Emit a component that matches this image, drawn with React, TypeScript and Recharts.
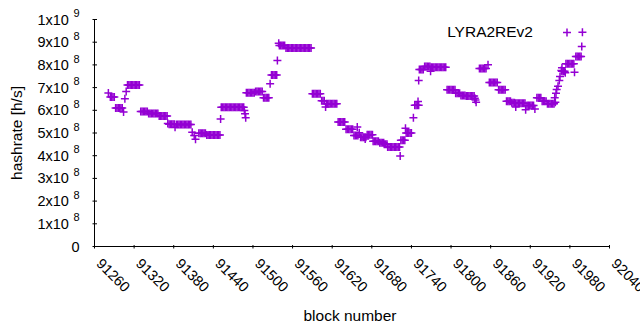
import React from 'react';
import { ScatterChart, Scatter, XAxis, YAxis, Legend, Label } from 'recharts';

// ---- data (block number, estimated hashrate in h/s) ----
const blocks = [
  91281,
  91284, 91286, 91288, 91290,
  91292, 91294, 91296, 91298, 91300, 91302,
  91304, 91306, 91308,
  91310, 91312, 91314, 91316, 91318, 91320, 91322, 91324, 91326, 91328,
  91330, 91332, 91334, 91336, 91338, 91340,
  91342, 91344, 91346, 91348, 91350, 91352, 91354, 91356,
  91358, 91360, 91362, 91364, 91366, 91368, 91370,
  91371,
  91373, 91375, 91377, 91379, 91381,
  91382,
  91384, 91386, 91388, 91390, 91392, 91394, 91396, 91398, 91400, 91402, 91404, 91406,
  91408, 91411, 91413,
  91418, 91420, 91422, 91424, 91426, 91428,
  91430, 91432, 91434, 91436, 91438, 91440, 91442, 91444, 91446, 91448, 91450,
  91451,
  91452, 91454, 91456, 91458, 91460, 91462, 91464, 91466, 91468, 91470, 91472, 91474, 91476, 91478, 91480, 91482, 91484, 91486,
  91487, 91488, 91489,
  91490, 91492, 91494, 91496, 91498, 91500, 91502,
  91504, 91506, 91508, 91510, 91512, 91514,
  91516, 91518, 91520, 91522, 91524,
  91526,
  91528, 91530, 91532, 91534, 91536,
  91537, 91539,
  91540, 91542, 91544, 91546, 91548,
  91550, 91552, 91554, 91556, 91558, 91560, 91562, 91564, 91566, 91568, 91570, 91572, 91574, 91576, 91578, 91580, 91582, 91584, 91586, 91588,
  91590, 91592, 91594, 91596, 91598, 91600, 91602,
  91604, 91606, 91608,
  91610,
  91611, 91613, 91615, 91617, 91619, 91621, 91623, 91625, 91627,
  91629, 91631, 91633, 91635, 91637, 91639,
  91641, 91643, 91645, 91647, 91649, 91651,
  91653, 91655, 91657, 91659,
  91658, 91661,
  91663, 91665, 91667, 91669, 91671, 91670,
  91673, 91675, 91677, 91679, 91681,
  91682, 91684, 91686, 91688, 91690,
  91692, 91694, 91696, 91698,
  91699, 91701, 91703,
  91704, 91706, 91708, 91710, 91712, 91714, 91716, 91718, 91720, 91722,
  91723,
  91724, 91726, 91728, 91730,
  91731,
  91732, 91734, 91736, 91738, 91740,
  91743,
  91745, 91747, 91749, 91751, 91750,
  91751,
  91752, 91754, 91756, 91758,
  91760, 91762, 91764, 91766, 91768,
  91769,
  91770, 91772, 91774, 91776, 91778, 91780, 91782, 91784, 91786, 91788, 91790, 91792,
  91794, 91796, 91798, 91800, 91802, 91804, 91806,
  91807, 91809, 91811, 91813,
  91815, 91817, 91819, 91821,
  91823, 91825, 91827, 91829, 91831, 91833, 91835,
  91836, 91837, 91838,
  91843, 91845, 91847, 91849, 91851, 91853,
  91856,
  91858, 91860, 91862, 91864, 91866, 91868, 91870,
  91872, 91874, 91876, 91878, 91880, 91882,
  91884, 91886, 91888, 91890,
  91892, 91894, 91896,
  91898,
  91898, 91900, 91902, 91904, 91906, 91908, 91910, 91912,
  91913,
  91915, 91917, 91919, 91921, 91923, 91925,
  91927,
  91930, 91932, 91934, 91936,
  91938, 91940, 91942, 91944,
  91946, 91948, 91950, 91952, 91954, 91956,
  91957, 91958, 91959, 91960, 91962, 91964, 91965, 91967, 91968,
  91968, 91970, 91972,
  91973,
  91974, 91976, 91978, 91980, 91982, 91984, 91986,
  91987,
  91989, 91991, 91993, 91995, 91997,
  91998, 91999,
];

const hashrate = [
  6.76e8,
  6.59e8, 6.59e8, 6.59e8, 6.59e8,
  6.10e8, 6.10e8, 6.10e8, 6.10e8, 6.10e8, 6.10e8,
  5.93e8, 6.51e8, 6.83e8,
  7.12e8, 7.12e8, 7.12e8, 7.12e8, 7.12e8, 7.12e8, 7.12e8, 7.12e8, 7.12e8, 7.12e8,
  5.95e8, 5.95e8, 5.95e8, 5.95e8, 5.95e8, 5.95e8,
  5.86e8, 5.86e8, 5.86e8, 5.86e8, 5.86e8, 5.86e8, 5.86e8, 5.86e8,
  5.75e8, 5.75e8, 5.75e8, 5.75e8, 5.75e8, 5.75e8, 5.75e8,
  5.42e8,
  5.39e8, 5.39e8, 5.39e8, 5.39e8, 5.39e8,
  5.25e8,
  5.37e8, 5.37e8, 5.37e8, 5.37e8, 5.37e8, 5.37e8, 5.37e8, 5.37e8, 5.37e8, 5.37e8, 5.37e8, 5.37e8,
  5.03e8, 4.89e8, 4.73e8,
  4.99e8, 4.99e8, 4.99e8, 4.99e8, 4.99e8, 4.99e8,
  4.91e8, 4.91e8, 4.91e8, 4.91e8, 4.91e8, 4.91e8, 4.91e8, 4.91e8, 4.91e8, 4.91e8, 4.91e8,
  5.62e8,
  6.13e8, 6.13e8, 6.13e8, 6.13e8, 6.13e8, 6.13e8, 6.13e8, 6.13e8, 6.13e8, 6.13e8, 6.13e8, 6.13e8, 6.13e8, 6.13e8, 6.13e8, 6.13e8, 6.13e8, 6.13e8,
  5.99e8, 5.85e8, 5.67e8,
  6.77e8, 6.77e8, 6.77e8, 6.77e8, 6.77e8, 6.77e8, 6.77e8,
  6.83e8, 6.83e8, 6.83e8, 6.83e8, 6.83e8, 6.83e8,
  6.55e8, 6.55e8, 6.55e8, 6.55e8, 6.55e8,
  7.17e8,
  7.56e8, 7.56e8, 7.56e8, 7.56e8, 7.56e8,
  8.19e8, 8.95e8,
  8.85e8, 8.85e8, 8.85e8, 8.85e8, 8.85e8,
  8.75e8, 8.75e8, 8.75e8, 8.75e8, 8.75e8, 8.75e8, 8.75e8, 8.75e8, 8.75e8, 8.75e8, 8.75e8, 8.75e8, 8.75e8, 8.75e8, 8.75e8, 8.75e8, 8.75e8, 8.75e8, 8.75e8, 8.75e8,
  6.73e8, 6.73e8, 6.73e8, 6.73e8, 6.73e8, 6.73e8, 6.73e8,
  6.42e8, 6.42e8, 6.42e8,
  6.14e8,
  6.29e8, 6.29e8, 6.29e8, 6.29e8, 6.29e8, 6.29e8, 6.29e8, 6.29e8, 6.29e8,
  5.48e8, 5.48e8, 5.48e8, 5.48e8, 5.48e8, 5.48e8,
  5.17e8, 5.17e8, 5.17e8, 5.17e8, 5.17e8, 5.17e8,
  4.89e8, 4.89e8, 4.89e8, 4.89e8,
  5.26e8, 5.01e8,
  4.81e8, 4.81e8, 4.81e8, 4.81e8, 4.81e8, 4.74e8,
  4.92e8, 4.92e8, 4.92e8, 4.92e8, 4.92e8,
  4.64e8, 4.64e8, 4.64e8, 4.64e8, 4.64e8,
  4.57e8, 4.57e8, 4.57e8, 4.57e8,
  4.50e8, 4.50e8, 4.50e8,
  4.38e8, 4.38e8, 4.38e8, 4.38e8, 4.38e8, 4.38e8, 4.38e8, 4.38e8, 4.38e8, 4.38e8,
  3.99e8,
  4.68e8, 4.68e8, 4.68e8, 4.68e8,
  5.21e8,
  5.00e8, 5.00e8, 5.00e8, 5.00e8, 5.00e8,
  5.67e8,
  6.22e8, 6.22e8, 6.22e8, 6.22e8, 6.39e8,
  7.31e8,
  7.80e8, 7.80e8, 7.80e8, 7.80e8,
  7.93e8, 7.93e8, 7.93e8, 7.93e8, 7.93e8,
  7.72e8,
  7.90e8, 7.90e8, 7.90e8, 7.90e8, 7.90e8, 7.90e8, 7.90e8, 7.90e8, 7.90e8, 7.90e8, 7.90e8, 7.90e8,
  6.90e8, 6.90e8, 6.90e8, 6.90e8, 6.90e8, 6.90e8, 6.90e8,
  6.75e8, 6.75e8, 6.75e8, 6.75e8,
  6.65e8, 6.65e8, 6.65e8, 6.65e8,
  6.63e8, 6.63e8, 6.63e8, 6.63e8, 6.63e8, 6.63e8, 6.63e8,
  6.53e8, 6.45e8, 6.36e8,
  7.84e8, 7.84e8, 7.84e8, 7.84e8, 7.84e8, 7.84e8,
  8.01e8,
  7.22e8, 7.22e8, 7.22e8, 7.22e8, 7.22e8, 7.22e8, 7.22e8,
  6.90e8, 6.90e8, 6.90e8, 6.90e8, 6.90e8, 6.90e8,
  6.40e8, 6.40e8, 6.40e8, 6.40e8,
  6.33e8, 6.33e8, 6.33e8,
  6.14e8,
  6.31e8, 6.31e8, 6.31e8, 6.31e8, 6.31e8, 6.31e8, 6.31e8, 6.31e8,
  6.02e8,
  6.21e8, 6.21e8, 6.21e8, 6.21e8, 6.21e8, 6.21e8,
  6.06e8,
  6.55e8, 6.55e8, 6.55e8, 6.55e8,
  6.40e8, 6.40e8, 6.40e8, 6.40e8,
  6.29e8, 6.29e8, 6.29e8, 6.29e8, 6.29e8, 6.29e8,
  6.55e8, 6.36e8, 6.75e8, 6.92e8, 7.06e8, 7.31e8, 7.49e8, 7.75e8, 7.87e8,
  7.72e8, 7.72e8, 7.72e8,
  7.65e8,
  8.05e8, 8.05e8, 8.05e8, 8.05e8, 8.05e8, 8.05e8, 8.05e8,
  7.68e8,
  8.37e8, 8.37e8, 8.37e8, 8.37e8, 8.37e8,
  8.81e8, 9.44e8,
];

const seriesName = 'LYRA2REv2';
const xTicks = [91260, 91320, 91380, 91440, 91500, 91560, 91620, 91680, 91740, 91800, 91860, 91920, 91980, 92040];
const yTicks = [0, 1e8, 2e8, 3e8, 4e8, 5e8, 6e8, 7e8, 8e8, 9e8, 1e9];
const yTickMantissa = ['0', '1x10', '2x10', '3x10', '4x10', '5x10', '6x10', '7x10', '8x10', '9x10', '1x10'];
const yTickExponent = ['', '8', '8', '8', '8', '8', '8', '8', '8', '8', '9'];

const data = blocks.map((b, i) => ({ block: b, hashrate: hashrate[i] }));

const COLOR = '#9400D3';
const FONT = '"Liberation Sans", Arial, sans-serif';
const TICK_FS = 14.5;

const PlusShape = (props: any) => {
  const { cx, cy } = props;
  if (cx == null || cy == null) return null;
  return (
    <path
      d={`M${cx - 4},${cy}H${cx + 4}M${cx},${cy - 4}V${cy + 4}`}
      stroke={COLOR}
      strokeWidth={1.5}
      fill="none"
    />
  );
};

const BottomTick = (props: any) => {
  const { x, y, payload } = props;
  const tx = x + 1;
  const ty = y + 16;
  return (
    <g>
      <line x1={x} y1={y} x2={x} y2={y - 3.5} stroke="#000" strokeWidth={1} />
      <text
        x={tx}
        y={ty}
        transform={`rotate(45, ${tx}, ${ty})`}
        fontSize={TICK_FS}
        fontFamily={FONT}
        fill="#000"
        textAnchor="start"
      >
        {payload.value}
      </text>
    </g>
  );
};

const TopTick = (props: any) => {
  const { x, y } = props;
  return <line x1={x} y1={y} x2={x} y2={y + 3.5} stroke="#000" strokeWidth={1} />;
};

const LeftTick = (props: any) => {
  const { x, y, payload } = props;
  const idx = yTicks.indexOf(payload.value);
  const mant = yTickMantissa[idx] ?? String(payload.value);
  const exp = yTickExponent[idx] ?? '';
  return (
    <g>
      <line x1={x} y1={y} x2={x + 4.5} y2={y} stroke="#000" strokeWidth={1} />
      <text x={x - 13} y={y + 5} textAnchor="end" fontSize={TICK_FS} fontFamily={FONT} fill="#000">
        {mant}
        {exp ? (
          <tspan dx={4.5} dy={-7.4} fontSize={11}>
            {exp}
          </tspan>
        ) : null}
      </text>
    </g>
  );
};

const RightTick = (props: any) => {
  const { x, y } = props;
  return <line x1={x} y1={y} x2={x - 4.5} y2={y} stroke="#000" strokeWidth={1} />;
};

const YTitle = (props: any) => {
  const vb = props.viewBox || { x: 0, y: 19.5, width: 94, height: 227 };
  const cx = 21.7;
  const cy = vb.y + vb.height / 2;
  return (
    <text
      x={cx}
      y={cy}
      transform={`rotate(-90, ${cx}, ${cy})`}
      textAnchor="middle"
      fontSize={15.5}
      fontFamily={FONT}
      fill="#000"
    >
      hashrate [h/s]
    </text>
  );
};

const XTitle = (props: any) => {
  const vb = props.viewBox || { x: 94.5, y: 246.5, width: 515, height: 83.5 };
  return (
    <text
      x={vb.x + vb.width / 2 - 2}
      y={321}
      textAnchor="middle"
      fontSize={15.5}
      fontFamily={FONT}
      fill="#000"
    >
      block number
    </text>
  );
};

const LegendContent = () => (
  <svg width={640} height={50} style={{ display: 'block' }}>
    <text x={533} y={37} textAnchor="end" fontSize={15.5} fontFamily={FONT} fill="#000">
      {seriesName}
    </text>
    <PlusShape cx={567} cy={32.5} />
  </svg>
);

export default function App() {
  return (
    <div style={{ position: 'absolute', left: 0, top: 0, width: 640, height: 330, background: '#fff' }}>
      <ScatterChart width={640} height={330} margin={{ top: 19.5, right: 30.5, bottom: 0, left: 0.5 }}>
        <XAxis
          dataKey="block"
          type="number"
          domain={[91260, 92040]}
          ticks={xTicks}
          interval={0}
          allowDataOverflow
          height={83.5}
          tickSize={0}
          tickLine={false}
          axisLine={{ stroke: '#000', strokeWidth: 1 }}
          tick={<BottomTick />}
        >
          <Label content={<XTitle />} />
        </XAxis>
        <XAxis
          xAxisId="top"
          orientation="top"
          type="number"
          domain={[91260, 92040]}
          ticks={xTicks}
          interval={0}
          allowDataOverflow
          height={0}
          tickSize={0}
          tickLine={false}
          axisLine={{ stroke: '#000', strokeWidth: 1 }}
          tick={<TopTick />}
        />
        <YAxis
          dataKey="hashrate"
          type="number"
          domain={[0, 1e9]}
          ticks={yTicks}
          interval={0}
          allowDataOverflow
          width={94}
          tickSize={0}
          tickLine={false}
          axisLine={{ stroke: '#000', strokeWidth: 1 }}
          tick={<LeftTick />}
        >
          <Label content={<YTitle />} />
        </YAxis>
        <YAxis
          yAxisId="right"
          orientation="right"
          type="number"
          domain={[0, 1e9]}
          ticks={yTicks}
          interval={0}
          allowDataOverflow
          width={0}
          tickSize={0}
          tickLine={false}
          axisLine={{ stroke: '#000', strokeWidth: 1 }}
          tick={<RightTick />}
        />
        <Legend
          layout="vertical"
          align="center"
          verticalAlign="middle"
          wrapperStyle={{ position: 'absolute', left: 0, top: 0, width: 640, height: 50, margin: 0 }}
          content={<LegendContent />}
        />
        <Scatter name={seriesName} data={data} shape={<PlusShape />} isAnimationActive={false} fill={COLOR} />
      </ScatterChart>
    </div>
  );
}
